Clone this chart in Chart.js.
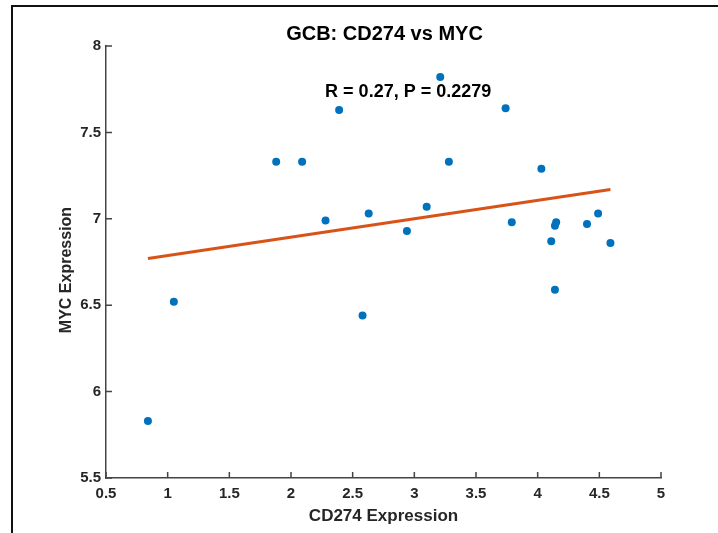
<!DOCTYPE html>
<html>
<head>
<meta charset="utf-8">
<script src="https://cdn.jsdelivr.net/npm/chart.js@4/dist/chart.umd.min.js"></script>
<style>
  html, body { margin: 0; padding: 0; background: #fff; }
  #wrap { position: relative; width: 718px; height: 533px; overflow: hidden; }
  #frame {
    position: absolute; left: 11px; top: 5px; width: 900px; height: 700px;
    border-top: 2px solid #111; border-left: 2px solid #111; pointer-events: none;
  }
</style>
</head>
<body>
<div id="wrap">
  <canvas id="chart" width="718" height="533"></canvas>
  <div id="frame"></div>
</div>
<script>
// valores
const cd274 = [0.84, 1.05, 1.88, 2.09, 2.28, 2.39, 2.58, 2.63, 2.94, 3.10, 3.21,
               3.28, 3.74, 3.79, 4.03, 4.11, 4.14, 4.15, 4.14, 4.40, 4.49, 4.59];
const myc   = [5.83, 6.52, 7.33, 7.33, 6.99, 7.63, 6.44, 7.03, 6.93, 7.07, 7.82,
               7.33, 7.64, 6.98, 7.29, 6.87, 6.96, 6.98, 6.59, 6.97, 7.03, 6.86];

// recta de ajuste (extremos)
const fitX = [0.84, 4.59];
const fitY = [6.77, 7.17];

const xTicks = [0.5, 1, 1.5, 2, 2.5, 3, 3.5, 4, 4.5, 5];
const yTicks = [5.5, 6, 6.5, 7, 7.5, 8];

const titulo = 'GCB: CD274 vs MYC';
const anotacion = 'R = 0.27, P = 0.2279';
const anotPos = { x: 2.95, y: 7.705 };
const xLabel = 'CD274 Expression';
const yLabel = 'MYC Expression';

const FONT = '"Liberation Sans", Arial, Helvetica, sans-serif';
const AXIS = '#262626';
const AXIS_LINE = '#444';

// Marcas de los ejes hacia dentro (estilo MATLAB)
const marcas = {
    id: 'marcas',
    afterDraw(chart) {
        const { ctx, chartArea, scales } = chart;
        ctx.save();
        ctx.strokeStyle = AXIS_LINE;
        ctx.lineWidth = 1.5;
        ctx.beginPath();
        xTicks.forEach(v => {
            const px = scales.x.getPixelForValue(v);
            ctx.moveTo(px, chartArea.bottom);
            ctx.lineTo(px, chartArea.bottom - 6);
        });
        yTicks.forEach(v => {
            const py = scales.y.getPixelForValue(v);
            ctx.moveTo(chartArea.left, py);
            ctx.lineTo(chartArea.left + 6, py);
        });
        ctx.stroke();
        ctx.restore();
    }
};

// Texto: título, anotación y etiquetas de ejes
const textos = {
    id: 'textos',
    afterDraw(chart) {
        const { ctx, chartArea, scales } = chart;
        ctx.save();
        ctx.fillStyle = '#000';
        ctx.textAlign = 'center';
        ctx.textBaseline = 'alphabetic';

        ctx.font = 'bold 20px ' + FONT;
        ctx.fillText(titulo, (chartArea.left + chartArea.right) / 2 + 1, 40);

        ctx.font = 'bold 18px ' + FONT;
        ctx.fillText(anotacion, scales.x.getPixelForValue(anotPos.x), scales.y.getPixelForValue(anotPos.y));

        ctx.fillStyle = AXIS;
        ctx.font = 'bold 17px ' + FONT;
        ctx.fillText(xLabel, (chartArea.left + chartArea.right) / 2, 521);

        ctx.font = 'bold 16px ' + FONT;
        ctx.translate(71, 270);
        ctx.rotate(-Math.PI / 2);
        ctx.fillText(yLabel, 0, 0);
        ctx.restore();
    }
};

const ejeComun = {
    type: 'linear',
    border: { display: true, color: AXIS_LINE, width: 1.5 },
    grid: { drawOnChartArea: false, drawTicks: false },
};

new Chart(document.getElementById('chart'), {
    type: 'scatter',
    data: {
        datasets: [
            {
                label: 'datos',
                data: cd274.map((x, i) => ({ x: x, y: myc[i] })),
                backgroundColor: '#0072BD',
                borderColor: '#0072BD',
                pointRadius: 4,
                pointBorderWidth: 0
            },
            {
                label: 'ajuste',
                type: 'line',
                data: fitX.map((x, i) => ({ x: x, y: fitY[i] })),
                borderColor: '#D95319',
                borderWidth: 3,
                pointRadius: 0,
                fill: false
            }
        ]
    },
    options: {
        responsive: false,
        animation: false,
        layout: { padding: { left: 46, top: 46, right: 57, bottom: 0 } },
        plugins: {
            legend: { display: false },
            title: { display: false },
            tooltip: { enabled: false }
        },
        scales: {
            x: {
                ...ejeComun,
                min: 0.5, max: 5,
                afterBuildTicks: s => { s.ticks = xTicks.map(v => ({ value: v })); },
                afterFit: s => { s.height = 55; },
                ticks: {
                    autoSkip: false, maxRotation: 0, padding: 7, color: AXIS,
                    font: { family: FONT, size: 15, weight: 'bold' },
                    callback: v => String(v)
                }
            },
            y: {
                ...ejeComun,
                min: 5.5, max: 8,
                afterBuildTicks: s => { s.ticks = yTicks.map(v => ({ value: v })); },
                afterFit: s => { s.width = 60; },
                ticks: {
                    autoSkip: false, padding: 5, color: AXIS,
                    font: { family: FONT, size: 15, weight: 'bold' },
                    callback: v => String(v)
                }
            }
        }
    },
    plugins: [marcas, textos]
});
</script>
</body>
</html>
